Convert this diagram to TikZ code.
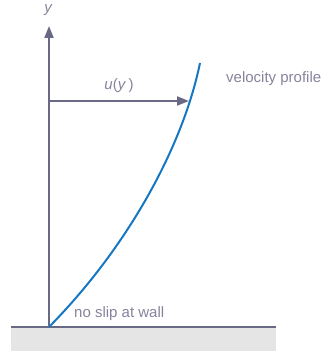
\documentclass[tikz,border=0pt]{standalone}
\usepackage{fontspec}
\setmainfont{Liberation Sans}
\usetikzlibrary{arrows.meta}
\definecolor{axiscol}{HTML}{6A6985}
\definecolor{txtcol}{HTML}{85849C}
\definecolor{curvecol}{HTML}{1577C2}
\definecolor{wallfill}{HTML}{E5E5E5}
\tikzset{
  axisline/.style={draw=axiscol, line width=2pt, -{Triangle[length=12pt,width=9pt]}},
  lbl/.style={text=txtcol, font=\fontsize{15}{18}\selectfont, inner sep=0pt},
  profile/.style={draw=curvecol, line width=2pt}
}
\begin{document}
\begin{tikzpicture}[x=1pt,y=-1pt]
\useasboundingbox (0,0) rectangle (330,352);
\fill[wallfill] (11,327) rectangle (276,351);
\coordinate (WL) at (11,327);
\coordinate (WR) at (276,327);
\draw[axiscol, line width=2pt] (WL) -- (WR);
\coordinate (O) at (49,327);
\coordinate (Ytop) at (49,26);
\coordinate (A) at (49,101);
\coordinate (B) at (189,101);
\coordinate (T) at (200,63);
\draw[axisline] (O) -- (Ytop);
\draw[axisline] (A) -- (B);
\draw[profile] (O) .. controls (125,250) and (182,150) .. (T);
\node[lbl, anchor=base] (ylab) at (48,13) {\itshape y};
\node[lbl, anchor=base] (ulab) at (119,90) {\textit{u}(\textit{y}\,)};
\node[lbl, anchor=base west] (vp) at (226,83) {velocity profile};
\node[lbl, anchor=base west] (ns) at (74,317) {no slip at wall};
\end{tikzpicture}
\end{document}
